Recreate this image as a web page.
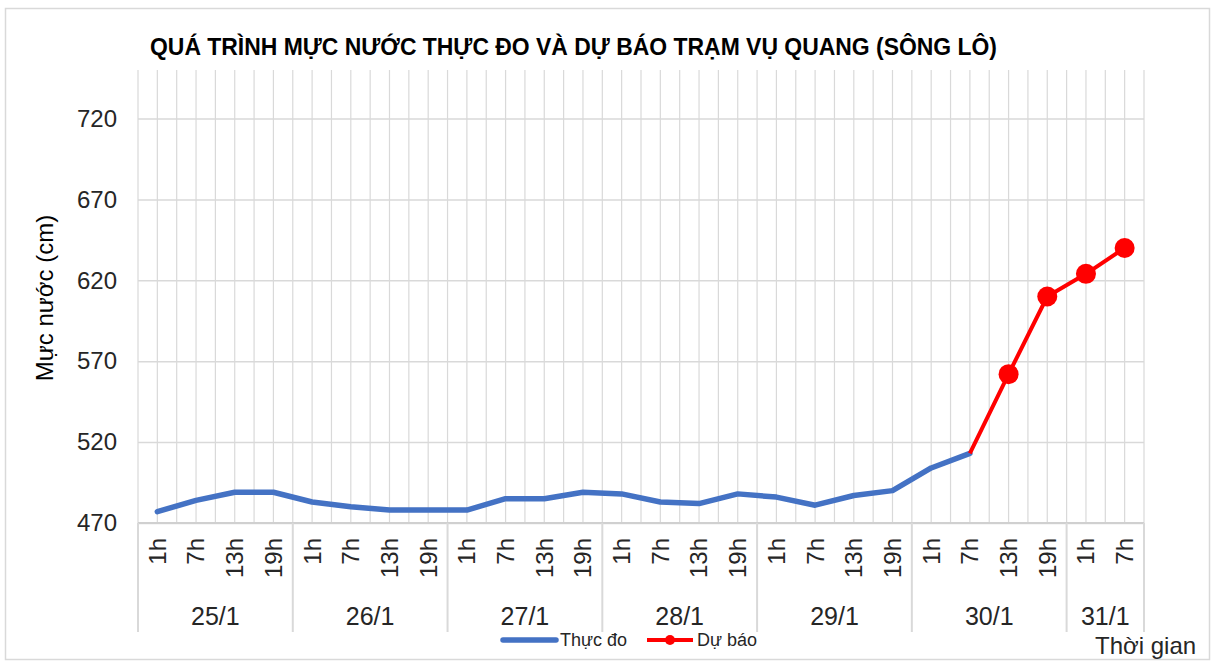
<!DOCTYPE html>
<html>
<head>
<meta charset="utf-8">
<script src="https://cdn.jsdelivr.net/npm/d3@7"></script>
<style>
  body { margin: 0; background: #fff; }
  svg text { font-family: "Liberation Sans Narrow", "Liberation Sans", Arial, sans-serif; fill: #262626; }
</style>
</head>
<body>
<div id="chart"></div>
<script>
// categories: days and the hours observed in each day
const days = ["25/1", "26/1", "27/1", "28/1", "29/1", "30/1", "31/1"];
const dayHours = [
  ["1h", "7h", "13h", "19h"],
  ["1h", "7h", "13h", "19h"],
  ["1h", "7h", "13h", "19h"],
  ["1h", "7h", "13h", "19h"],
  ["1h", "7h", "13h", "19h"],
  ["1h", "7h", "13h", "19h"],
  ["1h", "7h"],
];

// water level (cm), measured
const observed = [
  477, 484, 489, 489,
  483, 480, 478, 478,
  478, 485, 485, 489,
  488, 483, 482, 488,
  486, 481, 487, 490,
  504, 513,
];

// water level (cm), forecast (starts from the last measured value)
const forecast = [
  null, null, null, null,
  null, null, null, null,
  null, null, null, null,
  null, null, null, null,
  null, null, null, null,
  null, 513, 562, 610,
  624, 640,
];

const yTicks = [470, 520, 570, 620, 670, 720];
const yDomain = [470, 750];

const title = "QUÁ TRÌNH MỰC NƯỚC THỰC ĐO VÀ DỰ BÁO TRẠM VỤ QUANG (SÔNG LÔ)";
const yLabel = "Mực nước (cm)";
const xLabel = "Thời gian";
const seriesNames = ["Thực đo", "Dự báo"];

// build one row per category
const rows = [];
dayHours.forEach((hrs, di) => {
  hrs.forEach((h) => {
    const i = rows.length;
    rows.push({
      key: days[di] + " " + h,
      day: days[di],
      hour: h,
      obs: i < observed.length ? observed[i] : null,
      fc: forecast[i],
    });
  });
});

const width = 1215;
const height = 662;
const margin = { top: 70, right: 71, bottom: 139, left: 138 };
const innerBottom = height - margin.bottom;

const svg = d3
  .select("#chart")
  .append("svg")
  .attr("width", width)
  .attr("height", height);

// chart frame
svg
  .append("rect")
  .attr("x", 5.5)
  .attr("y", 8.5)
  .attr("width", 1204)
  .attr("height", 651)
  .attr("fill", "#fff")
  .attr("stroke", "#d9d9d9")
  .attr("stroke-width", 1.5);

const x = d3
  .scaleBand()
  .domain(rows.map((d) => d.key))
  .range([margin.left, width - margin.right])
  .paddingInner(0)
  .paddingOuter(0);

const y = d3
  .scaleLinear()
  .domain(yDomain)
  .range([innerBottom, margin.top]);

const cx = (d) => x(d.key) + x.bandwidth() / 2;

// vertical gridlines: every half category
const vLines = [];
rows.forEach((d) => {
  vLines.push(x(d.key));
  vLines.push(cx(d));
});
vLines.push(width - margin.right);

svg
  .append("g")
  .attr("class", "v-grid")
  .selectAll("line")
  .data(vLines)
  .join("line")
  .attr("x1", (d) => d)
  .attr("x2", (d) => d)
  .attr("y1", margin.top)
  .attr("y2", innerBottom)
  .attr("stroke", "#d9d9d9")
  .attr("stroke-width", 1.2);

// horizontal gridlines + y tick labels
const yAxis = d3
  .axisLeft(y)
  .tickValues(yTicks)
  .tickSize(-(width - margin.left - margin.right))
  .tickPadding(21);

svg
  .append("g")
  .attr("class", "y-axis")
  .attr("transform", `translate(${margin.left},0)`)
  .call(yAxis)
  .call((g) => g.select(".domain").remove())
  .call((g) =>
    g.selectAll(".tick line").attr("stroke", "#d9d9d9").attr("stroke-width", 1.5)
  )
  .call((g) =>
    g.selectAll(".tick text").attr("font-size", 24).attr("fill", "#262626")
  );

// x axis baseline
svg
  .append("line")
  .attr("x1", margin.left)
  .attr("x2", width - margin.right)
  .attr("y1", innerBottom)
  .attr("y2", innerBottom)
  .attr("stroke", "#d0d0d0")
  .attr("stroke-width", 2);

// day separators below the axis
let acc = 0;
const dayBounds = [x(rows[0].key)];
const dayCenters = [];
dayHours.forEach((hrs, di) => {
  const first = rows[acc];
  const last = rows[acc + hrs.length - 1];
  dayCenters.push({ day: days[di], x: (x(first.key) + x(last.key) + x.bandwidth()) / 2 });
  dayBounds.push(x(last.key) + x.bandwidth());
  acc += hrs.length;
});

svg
  .append("g")
  .attr("class", "day-sep")
  .selectAll("line")
  .data(dayBounds)
  .join("line")
  .attr("x1", (d) => d)
  .attr("x2", (d) => d)
  .attr("y1", innerBottom)
  .attr("y2", 632)
  .attr("stroke", "#d9d9d9")
  .attr("stroke-width", 2);

// hour labels, rotated
svg
  .append("g")
  .attr("class", "hour-labels")
  .selectAll("text")
  .data(rows)
  .join("text")
  .attr("transform", (d) => `translate(${cx(d)},538) rotate(-90)`)
  .attr("dy", "0.35em")
  .attr("text-anchor", "end")
  .attr("font-size", 24)
  .text((d) => d.hour);

// day labels
svg
  .append("g")
  .attr("class", "day-labels")
  .selectAll("text")
  .data(dayCenters)
  .join("text")
  .attr("x", (d) => d.x)
  .attr("y", 625)
  .attr("text-anchor", "middle")
  .attr("font-size", 25)
  .text((d) => d.day);

// lines
const line = (acc) =>
  d3
    .line()
    .defined((d) => acc(d) != null)
    .x(cx)
    .y((d) => y(acc(d)));

svg
  .append("path")
  .datum(rows)
  .attr("fill", "none")
  .attr("stroke", "#4472c4")
  .attr("stroke-width", 5.5)
  .attr("stroke-linejoin", "round")
  .attr("stroke-linecap", "round")
  .attr("d", line((d) => d.obs));

svg
  .append("path")
  .datum(rows)
  .attr("fill", "none")
  .attr("stroke", "#ff0000")
  .attr("stroke-width", 4)
  .attr("stroke-linejoin", "round")
  .attr("d", line((d) => d.fc));

// forecast markers (not on the shared starting point)
svg
  .append("g")
  .selectAll("circle")
  .data(rows.filter((d) => d.fc != null && d.obs == null))
  .join("circle")
  .attr("cx", cx)
  .attr("cy", (d) => y(d.fc))
  .attr("r", 10)
  .attr("fill", "#ff0000");

// title
svg
  .append("text")
  .attr("x", 150)
  .attr("y", 55)
  .attr("font-size", 24)
  .attr("font-weight", "bold")
  .attr("fill", "#000")
  .style("fill", "#000")
  .attr("textLength", 847)
  .attr("lengthAdjust", "spacingAndGlyphs")
  .text(title);

// y axis title
svg
  .append("text")
  .attr("transform", "translate(45,298) rotate(-90)")
  .attr("dy", "0.35em")
  .attr("text-anchor", "middle")
  .attr("font-size", 24)
  .style("fill", "#000")
  .text(yLabel);

// x axis title
svg
  .append("text")
  .attr("x", 1095)
  .attr("y", 654)
  .attr("font-size", 24)
  .text(xLabel);

// legend
const legend = svg.append("g").attr("class", "legend");
legend
  .append("line")
  .attr("x1", 503)
  .attr("x2", 556)
  .attr("y1", 640)
  .attr("y2", 640)
  .attr("stroke", "#4472c4")
  .attr("stroke-width", 5.5)
  .attr("stroke-linecap", "round");
legend
  .append("text")
  .attr("x", 560)
  .attr("y", 646)
  .attr("font-size", 18)
  .text(seriesNames[0]);
legend
  .append("line")
  .attr("x1", 647)
  .attr("x2", 693)
  .attr("y1", 640)
  .attr("y2", 640)
  .attr("stroke", "#ff0000")
  .attr("stroke-width", 4);
legend
  .append("circle")
  .attr("cx", 670)
  .attr("cy", 640)
  .attr("r", 5)
  .attr("fill", "#ff0000");
legend
  .append("text")
  .attr("x", 697)
  .attr("y", 646)
  .attr("font-size", 18)
  .text(seriesNames[1]);
</script>
</body>
</html>
